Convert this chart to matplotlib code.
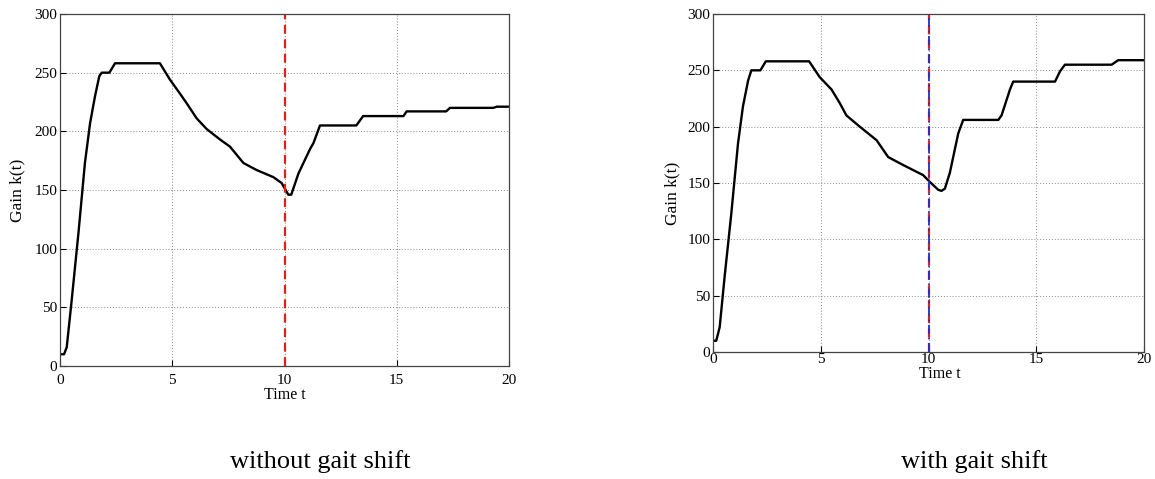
import matplotlib
matplotlib.use("Agg")
import matplotlib.pyplot as plt

plt.rcParams['font.family'] = ['Liberation Serif', 'DejaVu Serif']

# gain curve without gait shift
t_left = [0, 0.18, 0.3, 0.52, 0.82, 1.11, 1.34, 1.56, 1.75, 1.86, 2.2, 2.45, 4.45,
          4.9, 5.35, 5.64, 6.09, 6.53, 7.13, 7.57, 8.17, 8.76, 9.5, 9.87, 10.17,
          10.3, 10.62, 11.14, 11.29, 11.58, 13.2, 13.5, 15.3, 15.44, 17.2, 17.37,
          19.3, 19.45, 20]
k_left = [10, 10, 16, 56, 113, 173, 207, 230, 247, 250, 250, 258, 258,
          244, 232, 224, 211, 202, 193, 187, 173, 167, 161, 156, 146,
          146, 164, 185, 190, 205, 205, 213, 213, 217, 217, 220,
          220, 221, 221]

# gain curve with gait shift
t_right = [0, 0.15, 0.31, 0.54, 0.85, 1.16, 1.39, 1.63, 1.78, 2.2, 2.45, 4.46,
           4.95, 5.5, 5.88, 6.19, 6.81, 7.59, 8.13, 8.82, 9.44, 9.75, 10.06,
           10.45, 10.6, 10.76, 10.99, 11.38, 11.61, 13.24, 13.39, 13.78, 13.93,
           15.87, 16.1, 16.33, 18.5, 18.8, 20]
k_right = [10, 10, 22, 67, 123, 185, 218, 241, 250, 250, 258, 258,
           244, 233, 221, 210, 200, 188, 173, 166, 160, 157, 151,
           144, 143, 145, 159, 194, 206, 206, 210, 233, 240,
           240, 249, 255, 255, 259, 259]

shift_time = 10
captions = ["without gait shift", "with gait shift"]

W, H = 1155, 479
fig = plt.figure(figsize=(W / 100, H / 100), dpi=100)


def px_axes(x0, y0, x1, y1):
    return fig.add_axes([x0 / W, 1 - y1 / H, (x1 - x0) / W, (y1 - y0) / H])


def style(ax, xpad, xlab_pos, ylab_pos):
    ax.set_xlim(0, 20)
    ax.set_ylim(0, 300)
    ax.set_xticks([0, 5, 10, 15, 20])
    ax.set_yticks([0, 50, 100, 150, 200, 250, 300])
    ax.grid(True, linestyle=(0, (1, 2)), color='#888888', linewidth=0.7)
    ax.tick_params(direction='in', labelsize=11, length=4)
    ax.tick_params(axis='x', pad=xpad)
    ax.tick_params(axis='y', pad=2)
    for s in ax.spines.values():
        s.set_linewidth(0.9)
        s.set_color('#444444')
    ax.set_xlabel("Time t", fontsize=11.5)
    ax.set_ylabel("Gain k(t)", fontsize=12.5)
    ax.xaxis.set_label_coords(*xlab_pos)
    ax.xaxis.label.set_va('center')
    ax.yaxis.set_label_coords(*ylab_pos)
    ax.yaxis.label.set_va('center')


ax1 = px_axes(60, 14, 509, 366)
ax1.plot(t_left, k_left, color='black', linewidth=1.7)
ax1.axvline(shift_time, color='#e0201a', linestyle=(0, (4, 2.5)), linewidth=1.6)
style(ax1, 6, (0.501, -0.082), (-0.094, 0.5))

ax2 = px_axes(713, 14, 1144, 352)
ax2.plot(t_right, k_right, color='black', linewidth=1.7)
ax2.axvline(shift_time, color='#e0201a', linestyle=(0, (4, 2.5)), linewidth=1.6)
ax2.axvline(shift_time, color='#2030c0', linestyle=(0, (5, 2, 1, 2)), linewidth=1.3)
style(ax2, 1, (0.527, -0.066), (-0.095, 0.47))

fig.text(320 / W, 1 - 468 / H, captions[0], fontsize=19, ha='center', va='baseline')
fig.text(974 / W, 1 - 468 / H, captions[1], fontsize=19, ha='center', va='baseline')

fig.savefig("out.png", dpi=100)
